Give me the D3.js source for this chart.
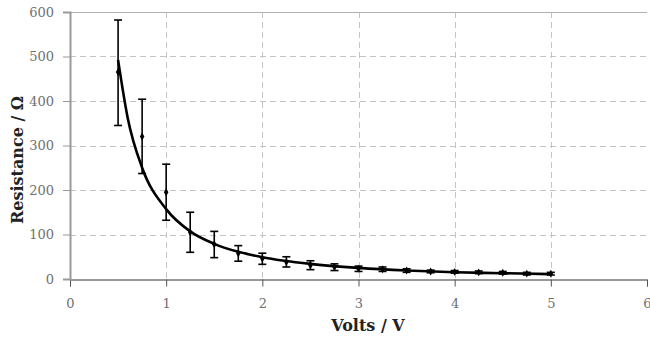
<!DOCTYPE html>
<html>
<head>
<meta charset="utf-8">
<script src="https://cdn.jsdelivr.net/npm/d3@7"></script>
<style>
  body { margin: 0; background: #fff; }
  #chart { width: 650px; height: 339px; }
  svg text { font-family: "DejaVu Serif", serif; }
</style>
</head>
<body>
<div id="chart"></div>
<script>
// measured points
var volts = [0.5, 0.75, 1, 1.25, 1.5, 1.75, 2, 2.25, 2.5, 2.75, 3, 3.25, 3.5, 3.75, 4, 4.25, 4.5, 4.75, 5];
var resistance = [465, 320, 195, 105, 78, 58, 46, 38, 31, 27, 23, 22, 19, 17, 16, 15, 14, 12, 12];
var errHi = [582, 404, 258, 150, 107, 75, 58, 50, 41, 34, 29, 27, 23, 20, 19, 18, 17, 15, 15];
var errLo = [345, 237, 132, 60, 48, 40, 33, 27, 21, 19, 17, 17, 15, 14, 13, 12, 11, 9, 9];

// trend curve
var fitVolts = [0.5, 0.6, 0.75, 1, 1.25, 1.5, 1.75, 2, 2.5, 3, 3.5, 4, 4.5, 5];
var fitRes = [492, 362, 250, 157, 107, 79, 61, 49, 34, 25, 19, 15, 13, 11];

var xTicks = [0, 1, 2, 3, 4, 5, 6];
var yTicks = [0, 100, 200, 300, 400, 500, 600];

var w = 650, h = 339;
var margin = {top: 12, right: 3, bottom: 60, left: 70};

var svg = d3.select("#chart").append("svg")
  .attr("width", w)
  .attr("height", h);

var x = d3.scaleLinear().domain([0, 6]).range([margin.left, w - margin.right]);
var y = d3.scaleLinear().domain([0, 600]).range([h - margin.bottom, margin.top]);

// grid
var grid = svg.append("g")
  .attr("stroke", "#c4c4c4")
  .attr("stroke-width", 1)
  .attr("stroke-dasharray", "6,4");
grid.selectAll(".hgrid")
  .data(yTicks.filter(d => d > 0 && d < 600))
  .enter().append("line")
    .attr("x1", x(0)).attr("x2", x(6))
    .attr("y1", d => Math.round(y(d)) + 0.5).attr("y2", d => Math.round(y(d)) + 0.5);
grid.selectAll(".vgrid")
  .data(xTicks.filter(d => d > 0 && d < 6))
  .enter().append("line")
    .attr("y1", y(600)).attr("y2", y(0))
    .attr("x1", d => Math.round(x(d)) + 0.5).attr("x2", d => Math.round(x(d)) + 0.5);

// top border
svg.append("line")
  .attr("x1", x(0)).attr("x2", x(6))
  .attr("y1", Math.round(y(600)) + 0.5).attr("y2", Math.round(y(600)) + 0.5)
  .attr("stroke", "#b0b0b0");

// axes
var xAxis = g => g
  .attr("transform", `translate(0, ${Math.round(y(0)) + 0.5})`)
  .call(d3.axisBottom(x).tickValues(xTicks).tickSize(7).tickPadding(12).tickFormat(d3.format("d")));
var yAxis = g => g
  .attr("transform", `translate(${Math.round(x(0))}, 0)`)
  .call(d3.axisLeft(y).tickValues(yTicks).tickSize(7).tickPadding(9).tickFormat(d3.format("d")));

var gx = svg.append("g").call(xAxis).attr("font-family", null);
gx.select(".domain").attr("stroke", "#333");
gx.selectAll(".tick line").attr("stroke", "#555");
gx.selectAll(".tick text").attr("fill", "#707070").attr("font-size", 13);

var gy = svg.append("g").call(yAxis).attr("font-family", null);
gy.select(".domain").attr("stroke", "#999").attr("stroke-width", 2);
gy.selectAll(".tick line").attr("stroke", "#999");
gy.selectAll(".tick text").attr("fill", "#707070").attr("font-size", 13);

// fit curve
var line = d3.line()
  .x(d => x(d[0]))
  .y(d => y(d[1]))
  .curve(d3.curveMonotoneX);
svg.append("path")
  .datum(d3.zip(fitVolts, fitRes))
  .attr("fill", "none")
  .attr("stroke", "#000")
  .attr("stroke-width", 2.6)
  .attr("stroke-linejoin", "round")
  .attr("d", line);

// error bars
var pts = volts.map((v, i) => ({v: v, r: resistance[i], hi: errHi[i], lo: errLo[i]}));
var eb = svg.append("g").attr("stroke", "#000").attr("stroke-width", 1.6);
eb.selectAll(".bar").data(pts).enter().append("line")
  .attr("x1", d => x(d.v)).attr("x2", d => x(d.v))
  .attr("y1", d => y(d.hi)).attr("y2", d => y(d.lo));
eb.selectAll(".caphi").data(pts).enter().append("line")
  .attr("x1", d => x(d.v) - 4).attr("x2", d => x(d.v) + 4)
  .attr("y1", d => y(d.hi)).attr("y2", d => y(d.hi));
eb.selectAll(".caplo").data(pts).enter().append("line")
  .attr("x1", d => x(d.v) - 4).attr("x2", d => x(d.v) + 4)
  .attr("y1", d => y(d.lo)).attr("y2", d => y(d.lo));

// markers
svg.selectAll(".pt").data(pts).enter().append("path")
  .attr("transform", d => `translate(${x(d.v)},${y(d.r)})`)
  .attr("d", d3.symbol().type(d3.symbolDiamond).size(18))
  .attr("fill", "#000");

// axis titles
svg.append("text")
  .attr("x", 368)
  .attr("y", 331)
  .attr("text-anchor", "middle")
  .attr("font-size", 16)
  .attr("font-weight", "bold")
  .attr("fill", "#222")
  .text("Volts / V");

svg.append("text")
  .attr("transform", "translate(23, 160) rotate(-90)")
  .attr("text-anchor", "middle")
  .attr("font-size", 16)
  .attr("font-weight", "bold")
  .attr("fill", "#222")
  .text("Resistance / Ω");
</script>
</body>
</html>
